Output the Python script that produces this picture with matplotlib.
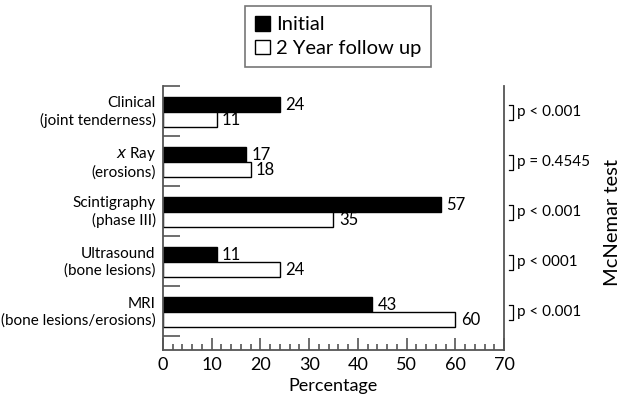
import matplotlib
matplotlib.use("Agg")
import matplotlib.pyplot as plt
from matplotlib.patches import Patch
import numpy as np

plt.rcParams['font.family'] = ['Lato', 'DejaVu Sans']

# data
categories = ["Clinical\n(joint tenderness)", "$x$ Ray\n(erosions)", "Scintigraphy\n(phase III)",
              "Ultrasound\n(bone lesions)", "MRI\n(bone lesions/erosions)"]
initial = [24, 17, 57, 11, 43]
followup = [11, 18, 35, 24, 60]
pvalues = ["p < 0.001", "p = 0.4545", "p < 0.001", "p < 0001", "p < 0.001"]

grey = "#555555"
fig = plt.figure(figsize=(6.22, 4.04), dpi=100)
ax = fig.add_axes([163/622, 54/404, 341/622, 264/404])

idx = np.arange(len(categories))
h = 0.305
ax.barh(idx + 0.37, initial, height=h, color="black", edgecolor="black", linewidth=1)
ax.barh(idx + 0.675, followup, height=h, color="white", edgecolor="black", linewidth=1)

for i in idx:
    ax.text(initial[i] + 1.1, i + 0.37, str(initial[i]), va="center", ha="left", fontsize=12)
    ax.text(followup[i] + 1.1, i + 0.675, str(followup[i]), va="center", ha="left", fontsize=12)
    ax.text(-1.5, i + 0.52, categories[i], va="center", ha="right", fontsize=11,
            linespacing=1.2)
    # bracket for McNemar p value
    yc = i + 0.52
    ax.plot([71.0, 71.9, 71.9, 71.0], [yc - 0.15, yc - 0.15, yc + 0.15, yc + 0.15],
            color="black", lw=0.9, clip_on=False)
    ax.text(72.7, yc, pvalues[i], va="center", ha="left", fontsize=11)

ax.set_xlim(0, 70)
ax.set_ylim(5.28, 0)
ax.set_xticks(np.arange(0, 71, 10))
ax.set_xticks(np.arange(0, 71, 2), minor=True)
ax.set_yticks(np.arange(0, 6))
ax.set_yticklabels([])
ax.tick_params(axis="x", direction="in", length=9, width=1.2, color=grey,
               labelsize=13, pad=5)
ax.tick_params(axis="x", which="minor", direction="in", length=4, width=1.2, color=grey)
ax.tick_params(axis="y", direction="in", length=12, width=1.2, color=grey)

ax.spines["top"].set_visible(False)
for s in ["left", "bottom", "right"]:
    ax.spines[s].set_color(grey)
    ax.spines[s].set_linewidth(1.3)

ax.set_xlabel("Percentage", fontsize=13, labelpad=4)

fig.text(612/622, 1 - 222/404, "McNemar test", rotation=90, va="center", ha="center",
         fontsize=14.5)

handles = [Patch(facecolor="black", edgecolor="black", label="Initial"),
           Patch(facecolor="white", edgecolor="black", label="2 Year follow up")]
leg = fig.legend(handles=handles, loc="upper center", bbox_to_anchor=(338/622, 1 - 6/404),
                 fontsize=14.5, frameon=True, fancybox=False, handlelength=0.75,
                 handleheight=0.75, handletextpad=0.3, labelspacing=0.3,
                 borderpad=0.5, borderaxespad=0)
leg.get_frame().set_edgecolor(grey)
leg.get_frame().set_linewidth(1.2)

fig.savefig("out.png", dpi=100)
